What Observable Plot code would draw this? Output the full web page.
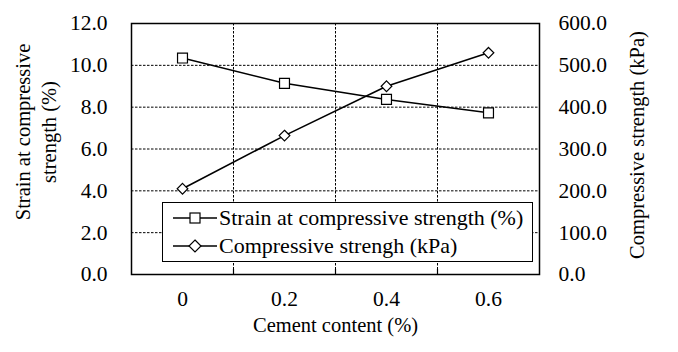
<!DOCTYPE html>
<html>
<head>
<meta charset="utf-8">
<script src="https://cdn.jsdelivr.net/npm/d3@7"></script>
<script src="https://cdn.jsdelivr.net/npm/@observablehq/plot@0.6"></script>
<style>
  html, body { margin: 0; padding: 0; background: #fff; font-family: "Liberation Serif", "Times New Roman", serif; }
  #wrap { position: relative; width: 678px; height: 352px; font-family: "Liberation Serif", "Times New Roman", serif; }
  #wrap svg text { font-family: "Liberation Serif", "Times New Roman", serif; }
  #legend { position: absolute; left: 162px; top: 202px; height: 60px; width: 371px; border: 1.2px solid #000; background: #fff; box-sizing: border-box; font-size: 22px; color: #000; font-family: "Liberation Serif", "Times New Roman", serif; white-space: nowrap; }
  #legend .row { display: flex; align-items: center; height: 24px; margin-left: 10px; }
  #legend .row:first-child { margin-top: 3px; margin-bottom: 4px; }
  #legend svg { margin-right: 2px; }
</style>
</head>
<body>
<div id="wrap"></div>
<script>
const cement = [0, 0.2, 0.4, 0.6];
const strain = [10.35, 9.14, 8.37, 7.73];
const compressive = [205, 332, 450, 530];
const leftTicks = [0, 2, 4, 6, 8, 10, 12];
const xTicks = [0, 0.2, 0.4, 0.6];
const boundaries = [0.1, 0.3, 0.5];
const seriesNames = ["Strain at compressive strength (%)", "Compressive strengh (kPa)"];

const ratio = 50; // right axis = left * 50
const strainData = cement.map((c, i) => ({x: c, y: strain[i]}));
const compData = cement.map((c, i) => ({x: c, y: compressive[i] / ratio}));

const serif = "'Liberation Serif', 'Times New Roman', serif";
const tickFs = 21.5;
const titleFs = 20.5;

const chart = Plot.plot({
  width: 678,
  height: 352,
  marginLeft: 131,
  marginRight: 139,
  marginTop: 23,
  marginBottom: 78,
  style: {fontFamily: serif, fontSize: tickFs + "px", color: "#000", background: "#fff"},
  x: {domain: [-0.1, 0.7]},
  y: {domain: [0, 12]},
  marks: [
    Plot.gridY([2, 4, 6, 8, 10], {stroke: "#000", strokeOpacity: 1, strokeDasharray: "2.5,1.5", strokeWidth: 1}),
    Plot.gridX(boundaries, {stroke: "#000", strokeOpacity: 1, strokeDasharray: "2.5,1.5", strokeWidth: 1}),
    Plot.ruleX(boundaries, {y1: 0, y2: 0.25, stroke: "#000", strokeWidth: 1.2}),
    Plot.axisX(xTicks, {tickSize: 0, tickPadding: 16, tickFormat: d => String(d), fontSize: tickFs, fontFamily: serif, label: null}),
    Plot.axisY(leftTicks, {anchor: "left", tickSize: 0, tickPadding: 24, tickFormat: d => d.toFixed(1), fontSize: tickFs, fontFamily: serif, label: null}),
    Plot.axisY(leftTicks, {anchor: "right", tickSize: 0, tickPadding: 19, tickFormat: d => (d * ratio).toFixed(1), fontSize: tickFs, fontFamily: serif, label: null}),
    Plot.text(["Strain at compressive\nstrength (%)"], {text: d => d, frameAnchor: "left", textAnchor: "middle", rotate: -90, dx: -97, dy: -17, fontSize: titleFs, fontFamily: serif, lineHeight: 1.3, lineAnchor: "middle"}),
    Plot.text(["Compressive strength (kPa)"], {text: d => d, frameAnchor: "right", textAnchor: "middle", rotate: -90, dx: 98, dy: -4, fontSize: titleFs, fontFamily: serif, lineAnchor: "middle"}),
    Plot.text(["Cement content (%)"], {text: d => d, frameAnchor: "bottom", textAnchor: "middle", dy: 51, fontSize: titleFs, fontFamily: serif, lineAnchor: "middle"}),
    Plot.frame({stroke: "#000", strokeWidth: 1.5}),
    Plot.line(strainData, {x: "x", y: "y", stroke: "#000", strokeWidth: 1.6}),
    Plot.line(compData, {x: "x", y: "y", stroke: "#000", strokeWidth: 1.6}),
    Plot.dot(strainData, {x: "x", y: "y", symbol: "square", r: 5.6, fill: "#fff", stroke: "#000", strokeWidth: 1.2}),
    Plot.dot(compData, {x: "x", y: "y", symbol: "diamond2", r: 4.8, fill: "#fff", stroke: "#000", strokeWidth: 1.2})
  ]
});

const wrap = document.getElementById("wrap");
wrap.appendChild(chart);

const legend = document.createElement("div");
legend.id = "legend";
const markerSvgs = [
  '<svg width="44" height="14"><line x1="0" y1="7" x2="44" y2="7" stroke="#000" stroke-width="1.6"/><rect x="17" y="2" width="10" height="10" fill="#fff" stroke="#000" stroke-width="1.2"/></svg>',
  '<svg width="44" height="14"><line x1="0" y1="7" x2="44" y2="7" stroke="#000" stroke-width="1.6"/><path d="M22,1 L28,7 L22,13 L16,7 Z" fill="#fff" stroke="#000" stroke-width="1.2"/></svg>'
];
seriesNames.forEach((name, i) => {
  const row = document.createElement("div");
  row.className = "row";
  row.innerHTML = markerSvgs[i] + "<span>" + name + "</span>";
  legend.appendChild(row);
});
wrap.appendChild(legend);
</script>
</body>
</html>
